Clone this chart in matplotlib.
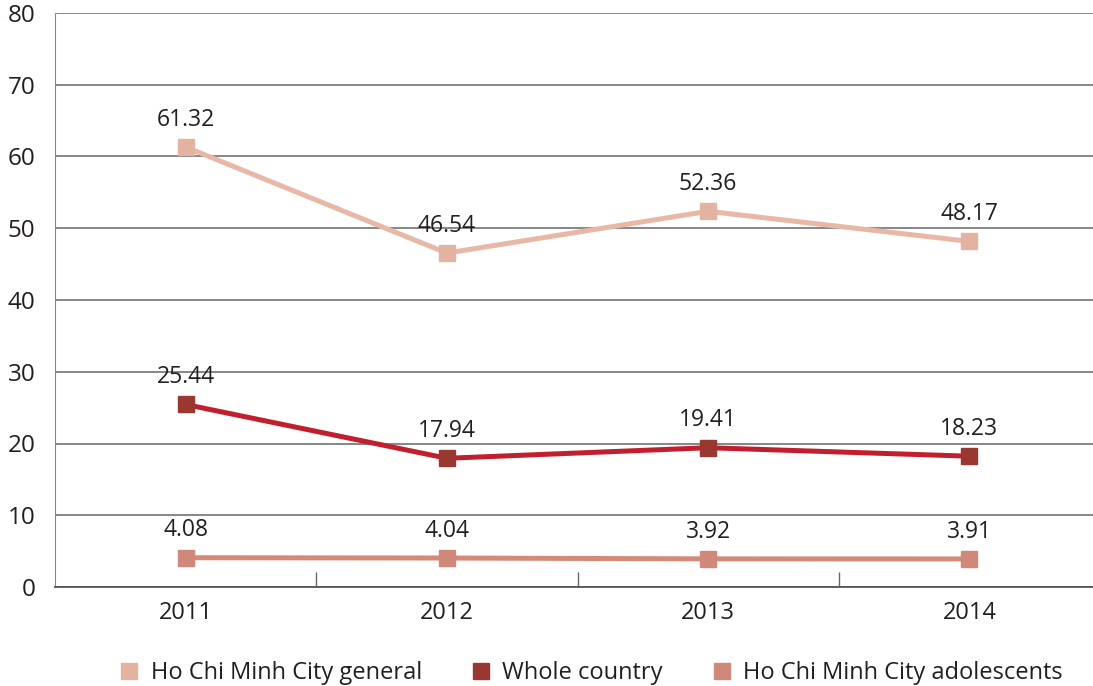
import matplotlib.pyplot as plt
from matplotlib.lines import Line2D
import numpy as np

plt.rcParams['font.family'] = ['Open Sans', 'DejaVu Sans']

years = ['2011', '2012', '2013', '2014']
hcm_general = [61.32, 46.54, 52.36, 48.17]
whole_country = [25.44, 17.94, 19.41, 18.23]
hcm_adolescents = [4.08, 4.04, 3.92, 3.91]

series_names = ['Ho Chi Minh City general', 'Whole country', 'Ho Chi Minh City adolescents']
line_colors = ['#E8B7A6', '#C11F2D', '#D38A78']
marker_colors = ['#E3B3A2', '#983830', '#D0887A']

fig = plt.figure(figsize=(10.93, 6.86), dpi=100)
ax = fig.add_axes([55 / 1093, 99 / 686, 1045 / 1093, 574 / 686])

x = np.arange(len(years))
for vals, lc, mc in zip([hcm_general, whole_country, hcm_adolescents], line_colors, marker_colors):
    ax.plot(x, vals, color=lc, lw=3.6, marker='s', ms=11, mfc=mc, mec=mc, zorder=3)
    for xi, v in zip(x, vals):
        ax.annotate(f'{v:.2f}', (xi, v), xytext=(0, 11), textcoords='offset points',
                    ha='center', va='bottom', fontsize=16.5, color='#231F20')

ax.set_xlim(-0.5, 3.5)
ax.set_ylim(0, 80)
ax.set_yticks(np.arange(0, 81, 10))
ax.grid(axis='y', color='#666666', lw=1.1, zorder=0)
ax.set_axisbelow(True)

ax.set_xticks(x)
ax.set_xticklabels(years)
ax.set_xticks(np.arange(0.5, 3, 1), minor=True)
ax.tick_params(axis='x', which='major', length=0, pad=10, labelsize=17, labelcolor='#231F20')
ax.tick_params(axis='x', which='minor', direction='in', length=11, color='#666666', width=1)
ax.tick_params(axis='y', length=0, pad=14, labelsize=17.5, labelcolor='#231F20')

for s in ['top', 'right']:
    ax.spines[s].set_visible(False)
ax.spines['left'].set_color('#888888')
ax.spines['bottom'].set_color('#555555')
ax.spines['bottom'].set_linewidth(1.3)

handles = [Line2D([], [], ls='none', marker='s', ms=11, mfc=mc, mec=mc) for mc in marker_colors]
fig.legend(handles, series_names, loc='lower center', bbox_to_anchor=(0.541, -0.03), ncol=3,
           frameon=False, fontsize=17, handlelength=0.8, handletextpad=0.5, columnspacing=2.1,
           labelcolor='#231F20')

fig.savefig('out.png', dpi=100)
